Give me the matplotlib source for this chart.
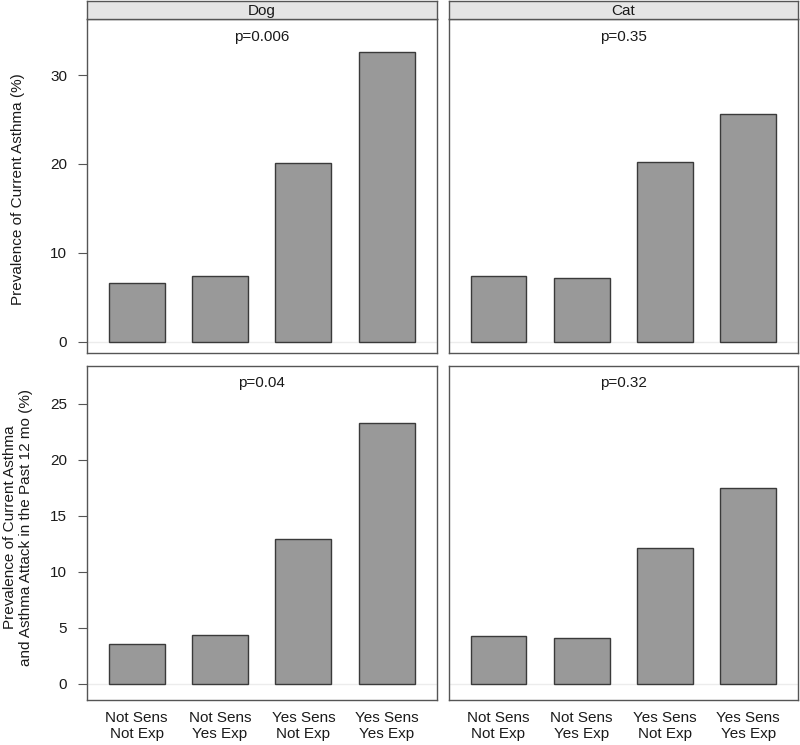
import matplotlib
matplotlib.use("Agg")
import matplotlib.pyplot as plt
import numpy as np

plt.rcParams['font.family'] = ['Liberation Sans', 'DejaVu Sans']

categories = ["Not Sens\nNot Exp", "Not Sens\nYes Exp", "Yes Sens\nNot Exp", "Yes Sens\nYes Exp"]
animals = ["Dog", "Cat"]

asthma_dog = [6.64, 7.36, 20.12, 32.6]
asthma_cat = [7.36, 7.17, 20.2, 25.56]
attack_dog = [3.57, 4.35, 12.95, 23.27]
attack_cat = [4.29, 4.08, 12.17, 17.53]

p_asthma = ["p=0.006", "p=0.35"]
p_attack = ["p=0.04", "p=0.32"]

ylabels = ["Prevalence of Current Asthma (%)",
           "Prevalence of Current Asthma\nand Asthma Attack in the Past 12 mo (%)"]
yticks_rows = [[0, 10, 20, 30], [0, 5, 10, 15, 20, 25]]
ylims_rows = [(-1.27, 36.3), (-1.43, 28.4)]

rows = [[asthma_dog, asthma_cat], [attack_dog, attack_cat]]
prow = [p_asthma, p_attack]

W, H = 800, 745
fig = plt.figure(figsize=(W / 100, H / 100), dpi=100)

TXT = '#1a1a1a'
BORDER = '#555555'
FS = 11

col_x = [(86.7, 436.7), (448.5, 798.0)]
row_y = [(19.0, 353.0), (365.7, 700.0)]
ylabel_centers = [189.0, 527.0]

x = np.arange(1, len(categories) + 1)

for r in range(2):
    for c in range(2):
        x0, x1 = col_x[c]
        y0, y1 = row_y[r]
        ax = fig.add_axes([x0 / W, 1 - y1 / H, (x1 - x0) / W, (y1 - y0) / H])
        ax.axhline(0, color='#ececec', lw=1.0, zorder=0)
        ax.bar(x, rows[r][c], width=0.67, color='#999999', edgecolor='#3a3a3a',
               linewidth=1.0, zorder=2)
        ax.set_xlim(0.4, 4.6)
        ax.set_ylim(*ylims_rows[r])
        ax.text(0.5, 0.947, prow[r][c], transform=ax.transAxes, ha='center',
                va='center', fontsize=FS, color=TXT)
        for s in ax.spines.values():
            s.set_color(BORDER)
            s.set_linewidth(1.0)
        if c == 0:
            ax.set_yticks(yticks_rows[r])
            ax.tick_params(axis='y', length=6.5, width=0.8, color=BORDER,
                           pad=7.5, labelsize=FS, labelcolor=TXT)
        else:
            ax.set_yticks([])
        if r == 1:
            ax.set_xticks(x)
            ax.set_xticklabels(categories)
            ax.tick_params(axis='x', length=0, pad=8, labelsize=FS, labelcolor=TXT)
        else:
            ax.set_xticks([])
        if r == 0:
            sax = fig.add_axes([x0 / W, 1 - y0 / H, (x1 - x0) / W, (y0 - 0.5) / H])
            sax.set_facecolor('#e5e5e5')
            sax.set_xticks([])
            sax.set_yticks([])
            for s in sax.spines.values():
                s.set_color(BORDER)
                s.set_linewidth(1.0)
            sax.text(0.5, 0.45, animals[c], transform=sax.transAxes, ha='center',
                     va='center', fontsize=FS, color=TXT)
    fig.text(18 / W, 1 - ylabel_centers[r] / H, ylabels[r], rotation=90,
             ha='center', va='center', fontsize=FS, color=TXT, linespacing=1.2)

fig.savefig("out.png", dpi=100)
